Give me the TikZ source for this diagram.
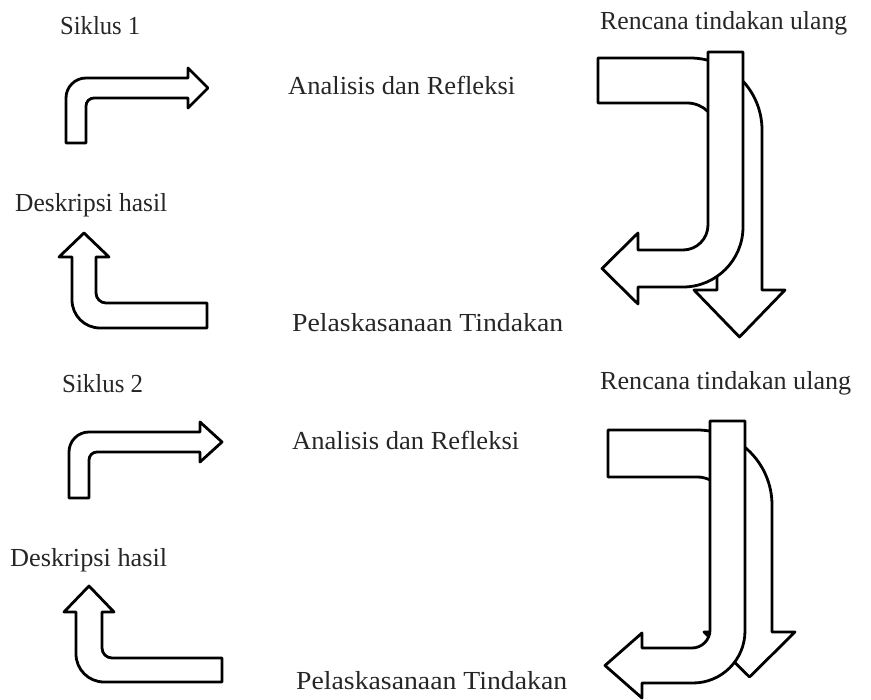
\documentclass[tikz,border=0pt]{standalone}
\usepackage{fontspec}
\usepackage{graphicx}
\setmainfont{Liberation Serif}
\tikzset{
  arrowshape/.style={draw=black, fill=white, line width=2.8pt, line join=round},
  lbl/.style={anchor=base west, inner sep=0pt, text=black!85, font=\fontsize{26}{30}\selectfont}
}
\newcommand{\fitw}[2]{\resizebox{#1pt}{\height}{#2}}
\begin{document}
\begin{tikzpicture}[x=1pt,y=-1pt]
\useasboundingbox (0,0) rectangle (871,700);

% ---------- Siklus 1 ----------
\node[lbl] (s1) at (60,35) {\fitw{80}{Siklus 1}};
\node[lbl] (ar1) at (288,95) {\fitw{227}{Analisis dan Refleksi}};
\node[lbl] (dh1) at (15,212) {\fitw{152}{Deskripsi hasil}};
\node[lbl] (pt1) at (292,332) {\fitw{271}{Pelaskasanaan Tindakan}};
\node[lbl] (rt1) at (600,30) {\fitw{247}{Rencana tindakan ulang}};

% bent arrow to the right
\draw[arrowshape] (66,143) -- (66,98) .. controls (66,86.95) and (74.95,78) .. (86,78)
  -- (188,78) -- (188,68) -- (208,88) -- (188,108) -- (188,98) -- (94,98)
  .. controls (89.58,98) and (86,101.58) .. (86,106) -- (86,143) -- cycle;

% bent arrow upward
\draw[arrowshape] (207,303) -- (106,303) .. controls (100.48,303) and (96,298.52) .. (96,293)
  -- (96,257) -- (109,257) -- (84,233) -- (59,257) -- (72,257) -- (72,300)
  .. controls (72,315.46) and (84.54,328) .. (100,328) -- (207,328) -- cycle;

% right-then-down arrow (behind)
\draw[arrowshape] (598,58) -- (690,58) .. controls (729.8,58) and (762,90.2) .. (762,130)
  -- (762,290) -- (785,290) -- (739.5,337) -- (694,290) -- (717,290) -- (717,133)
  .. controls (717,116.4) and (703.6,103) .. (687,103) -- (598,103) -- cycle;

% J arrow (front)
\draw[arrowshape] (708,52) -- (743,52) -- (743,227) .. controls (743,260.1) and (716.1,287) .. (683,287)
  -- (638,287) -- (638,304) -- (602,268.5) -- (638,233) -- (638,250) -- (683,250)
  .. controls (696.8,250) and (708,238.8) .. (708,225) -- cycle;

% ---------- Siklus 2 ----------
\node[lbl] (s2) at (62,393) {\fitw{81}{Siklus 2}};
\node[lbl] (ar2) at (292,450) {\fitw{227}{Analisis dan Refleksi}};
\node[lbl] (dh2) at (10,566) {\fitw{157}{Deskripsi hasil}};
\node[lbl] (pt2) at (296,689) {\fitw{271}{Pelaskasanaan Tindakan}};
\node[lbl] (rt2) at (600,390) {\fitw{251}{Rencana tindakan ulang}};

% bent arrow to the right
\draw[arrowshape] (69,498) -- (69,452) .. controls (69,440.95) and (77.95,432) .. (89,432)
  -- (200,432) -- (200,422) -- (222,442) -- (200,462) -- (200,452) -- (97,452)
  .. controls (92.58,452) and (89,455.58) .. (89,460) -- (89,498) -- cycle;

% bent arrow upward
\draw[arrowshape] (222,658) -- (112,658) .. controls (106.48,658) and (102,653.52) .. (102,648)
  -- (102,612) -- (114,612) -- (89,586) -- (64,612) -- (76,612) -- (76,654)
  .. controls (76,669.46) and (88.54,682) .. (104,682) -- (222,682) -- cycle;

% right-then-down arrow (behind)
\draw[arrowshape] (608,430) -- (697,430) .. controls (738.4,430) and (772,463.6) .. (772,505)
  -- (772,632) -- (795,632) -- (749.5,677) -- (704,632) -- (727,632) -- (727,507)
  .. controls (727,490.4) and (713.6,477) .. (697,477) -- (608,477) -- cycle;

% J arrow (front)
\draw[arrowshape] (710,421) -- (745,421) -- (745,631) .. controls (745,659.7) and (721.7,683) .. (693,683)
  -- (642,683) -- (642,698) -- (605,665.5) -- (642,633) -- (642,648) -- (692,648)
  .. controls (701.9,648) and (710,639.9) .. (710,630) -- cycle;
\end{tikzpicture}
\end{document}
